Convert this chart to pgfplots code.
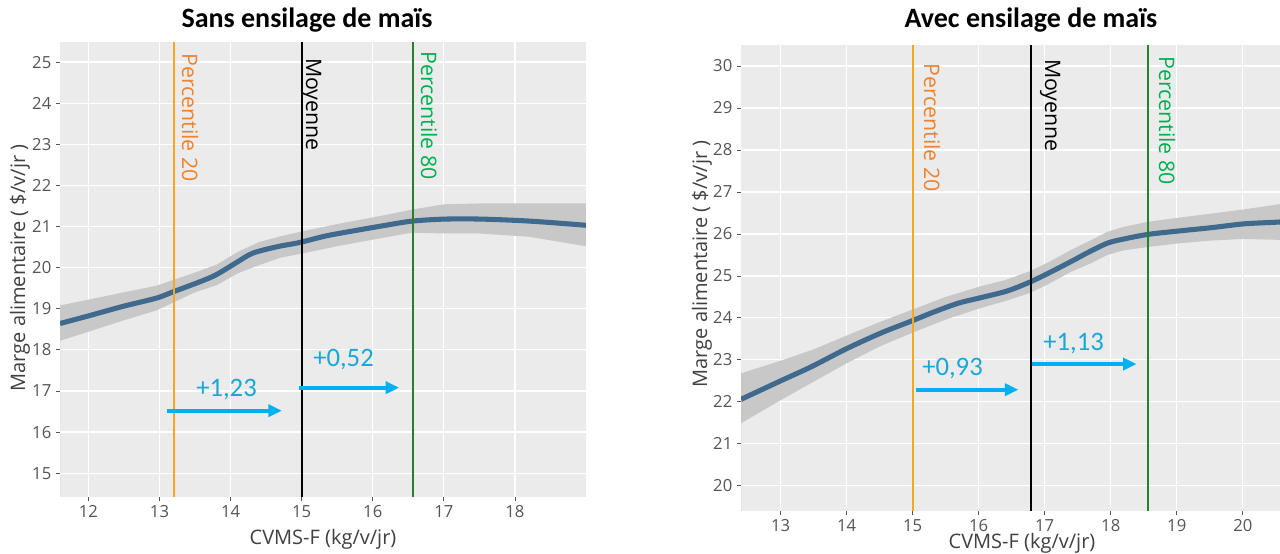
\documentclass[border=0pt]{standalone}
\usepackage{fontspec}
\setmainfont{Open Sans}
\newfontfamily\carlito{Carlito}
\usepackage{pgfplots}
\pgfplotsset{compat=1.18}
\usetikzlibrary{arrows.meta}

\definecolor{panelbg}{HTML}{EBEBEB}
\definecolor{bandgrey}{HTML}{C8C8C8}
\definecolor{curveblue}{HTML}{3F6A8E}
\definecolor{p20line}{HTML}{F5A81E}
\definecolor{p20text}{HTML}{F0822C}
\definecolor{p80line}{HTML}{2A7F2A}
\definecolor{p80text}{HTML}{00B050}
\definecolor{arrowblue}{HTML}{00B0F0}
\definecolor{annotblue}{HTML}{18A8D8}
\definecolor{ticklab}{HTML}{555555}
\definecolor{axlab}{HTML}{404040}

\pgfplotsset{
  ggpanel/.style={
    scale only axis,
    anchor=south west,
    axis background/.style={fill=panelbg},
    axis line style={draw=none},
    grid=major,
    major grid style={white, line width=0.9pt},
    tick align=outside,
    tick pos=left,
    major tick length=3pt,
    tick style={draw=ticklab, line width=0.6pt},
    tick label style={font=\fontsize{12.5}{14}\selectfont, text=ticklab},
    /pgf/number format/assume math mode=true,
  },
  vline/.style={line width=1.5pt},
  smooth curve/.style={curveblue, line width=3.8pt, smooth},
  gain/.style={arrowblue, line width=3pt, -{Triangle[length=10pt, width=9pt]}},
}

\begin{document}
\begin{tikzpicture}
\useasboundingbox (0,0) rectangle (960pt,414.75pt);
\clip (0,0) rectangle (960pt,414.75pt);

% ---- Sans ensilage
\begin{axis}[ggpanel, at={(45pt,42pt)}, width=394.5pt, height=341pt,
  xmin=11.6, xmax=19.0, ymin=14.42, ymax=25.48,
  xtick={12,...,18}, ytick={15,...,25}]
\addplot[fill=bandgrey, draw=none] coordinates {
  (11.6,19.08) (12.0,19.22) (12.5,19.40) (12.96,19.56) (13.5,19.88) (13.8,20.07)
  (14.1,20.38) (14.4,20.62) (14.7,20.76) (15.0,20.88) (15.5,21.06) (16.0,21.22)
  (16.55,21.41) (17.0,21.54) (17.5,21.56) (18.2,21.56) (19.0,21.56)
  (19.0,20.52) (18.2,20.75) (17.5,20.83) (17.0,20.83) (16.55,20.85) (16.0,20.68)
  (15.5,20.52) (15.0,20.34) (14.7,20.24) (14.4,20.06) (14.1,19.86) (13.8,19.57)
  (13.5,19.40) (12.96,18.96) (12.5,18.72) (12.0,18.44) (11.6,18.22)
} \closedcycle;
\addplot[smooth curve] coordinates {
  (11.6,18.64) (12.01,18.83) (12.47,19.05) (12.96,19.26) (13.19,19.41)
  (13.56,19.65) (13.79,19.82) (14.08,20.12) (14.31,20.35) (14.66,20.51)
  (14.97,20.61) (15.34,20.77) (15.75,20.90) (16.15,21.02) (16.55,21.13)
  (17.01,21.18) (17.53,21.18) (18.22,21.13) (19.0,21.03)
};
\addplot[vline, p20line] coordinates {(13.2,14.42) (13.2,25.48)};
\addplot[vline, black] coordinates {(15.0,14.42) (15.0,25.48)};
\addplot[vline, p80line] coordinates {(16.57,14.42) (16.57,25.48)};
\addplot[gain] coordinates {(13.11,16.52) (14.72,16.52)};
\addplot[gain] coordinates {(14.96,17.08) (16.37,17.08)};
\end{axis}

% ---- Avec ensilage
\begin{axis}[ggpanel, at={(555.75pt,31.8pt)}, width=411pt, height=349.2pt,
  xmin=12.40, xmax=20.7, ymin=19.41, ymax=30.5,
  xtick={13,...,20}, ytick={20,...,30}]
\addplot[fill=bandgrey, draw=none] coordinates {
  (12.4,22.68) (13.0,22.98) (13.5,23.25) (14.0,23.58) (14.5,23.90) (15.0,24.20)
  (15.5,24.50) (16.0,24.74) (16.4,24.90) (16.77,25.11) (17.05,25.32) (17.4,25.62)
  (17.7,25.85) (17.95,26.05) (18.2,26.17) (18.57,26.29) (19.0,26.38)
  (19.5,26.48) (20.0,26.58) (20.52,26.70) (20.7,26.74)
  (20.7,25.86) (20.52,25.86) (20.0,25.88) (19.5,25.84) (19.0,25.77)
  (18.57,25.69) (18.2,25.61) (17.95,25.50) (17.7,25.30) (17.4,25.10)
  (17.05,24.80) (16.77,24.59) (16.4,24.40) (16.0,24.22) (15.5,23.96)
  (15.0,23.65) (14.5,23.32) (14.0,22.92) (13.5,22.48) (13.0,22.04) (12.4,21.49)
} \closedcycle;
\addplot[smooth curve] coordinates {
  (12.40,22.06) (13.0,22.50) (13.47,22.84) (13.99,23.26) (14.52,23.64)
  (14.99,23.93) (15.32,24.14) (15.69,24.35) (16.0,24.47) (16.43,24.64)
  (16.77,24.85) (17.05,25.06) (17.42,25.36) (17.67,25.57) (17.95,25.78)
  (18.2,25.88) (18.57,25.99) (19.03,26.07) (19.53,26.15) (20.02,26.24)
  (20.52,26.28) (20.7,26.30)
};
\addplot[vline, p20line] coordinates {(15.0,19.41) (15.0,30.5)};
\addplot[vline, black] coordinates {(16.79,19.41) (16.79,30.5)};
\addplot[vline, p80line] coordinates {(18.57,19.41) (18.57,30.5)};
\addplot[gain] coordinates {(15.05,22.29) (16.6,22.29)};
\addplot[gain] coordinates {(16.8,22.9) (18.39,22.9)};
\end{axis}

% ---- texts, placed in reference pixels (origin top left)
\begin{scope}[x=0.75pt, y=-0.75pt, shift={(0pt,414.75pt)}, inner sep=0pt]
  \node[anchor=base, font=\carlito\bfseries\fontsize{21}{24}\selectfont] at (307,28) {Sans ensilage de maïs};
  \node[anchor=base, font=\carlito\bfseries\fontsize{21}{24}\selectfont] at (1031,28) {Avec ensilage de maïs};

  \node[anchor=base, font=\fontsize{15}{18}\selectfont, text=axlab] at (323,544) {CVMS-F (kg/v/jr)};
  \node[anchor=base, font=\fontsize{15}{18}\selectfont, text=axlab] at (1022,548) {CVMS-F (kg/v/jr)};
  \node[rotate=90, font=\fontsize{15}{18}\selectfont, text=axlab] at (20,268) {Marge alimentaire ( \$/v/jr )};
  \node[rotate=90, font=\fontsize{15}{18}\selectfont, text=axlab] at (702,264) {Marge alimentaire ( \$/v/jr )};

  \begin{scope}[every node/.style={rotate=-90, anchor=base west, font=\fontsize{16}{19}\selectfont}]
    \node[text=p20text] at (182,53) {Percentile 20};
    \node[text=black] at (306,58) {Moyenne};
    \node[text=p80text] at (421,51) {Percentile 80};
    \node[text=p20text] at (924,63) {Percentile 20};
    \node[text=black] at (1045,59) {Moyenne};
    \node[text=p80text] at (1159,56) {Percentile 80};
  \end{scope}

  \begin{scope}[every node/.style={anchor=base west, text=annotblue, font=\carlito\fontsize{20}{24}\selectfont}]
    \node at (196,397) {+1,23};
    \node at (313,367) {+0,52};
    \node at (922,376) {+0,93};
    \node at (1043,351) {+1,13};
  \end{scope}
\end{scope}
\end{tikzpicture}
\end{document}
